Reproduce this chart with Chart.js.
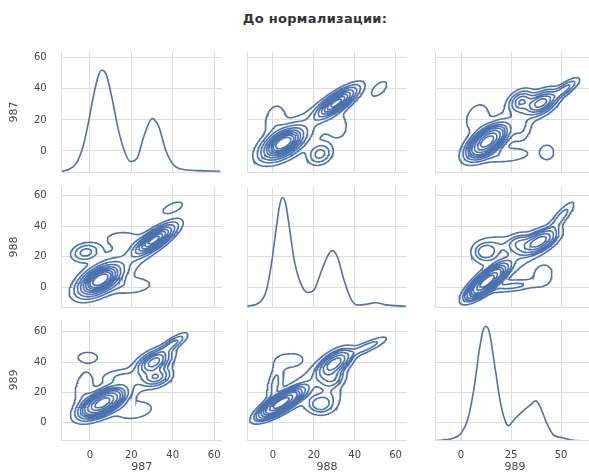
<!DOCTYPE html>
<html>
<head>
<meta charset="utf-8">
<script src="https://cdn.jsdelivr.net/npm/chart.js@4.4.1/dist/chart.umd.min.js"></script>
<style>
  html, body { margin: 0; padding: 0; background: #fff; width: 589px; height: 472px; overflow: hidden; position: relative; }
  canvas { position: absolute; }
  #title { position: absolute; left: 0; width: 630px; top: 11px; text-align: center;
           font: bold 13px "DejaVu Sans"; color: #333; letter-spacing: 0.3px; }
</style>
</head>
<body>
<div id="title">До нормализации:</div>
<script>
const varNames = ['987', '988', '989'];

// diagonal density curves (y in the row's units)
const kde987X = [-13.5, -10, -6.5, -3.3, -0.8, 1.6, 4.1, 5.7, 7.8, 10.6, 13.8, 17.1, 19.5, 22.8, 26, 30.1, 33.3, 36.6, 39.8, 43.9, 52, 63];
const kde987Y = [-13.2, -11.8, -7.9, 2.8, 17.6, 34.6, 48.4, 52, 49.7, 34.6, 13.4, -1.5, -6.8, -4.7, 9.1, 20.8, 15.5, 0.6, -7.9, -11.7, -12.7, -13.1];
const kde988X = [-12.5, -6.5, -3.3, -0.8, 1.6, 3.3, 4.6, 6.2, 8.1, 10.5, 13.8, 17, 20.3, 24.3, 27.6, 29.2, 31.7, 34.9, 38.2, 41.4, 45.4, 50.3, 55.2, 65];
const kde988Y = [-12.2, -9.7, -2.2, 15, 38.7, 53.7, 58.7, 54.8, 38.7, 17.2, 2.1, -3.2, -1.1, 12.9, 22.6, 24.1, 19.4, 4.3, -7.5, -11.4, -11.0, -9.9, -11.3, -12.2];
const kde989X = [-13, -4.1, 0, 3.3, 6.6, 9.1, 11, 12.3, 14, 16.5, 19.8, 22.6, 23.9, 26.4, 30.5, 34.6, 37.4, 39.6, 42.9, 46.2, 50.3, 55.3, 61.9, 67];
const kde989Y = [-11.9, -10.3, -6.9, 1.8, 23.5, 47.5, 60.6, 63.4, 60.6, 41, 12.7, -0.4, -1.9, 1.8, 7.2, 11.6, 14.4, 10.5, -0.4, -8, -9.8, -11.4, -12, -12.2];

// blobs behind each pair density: [mean x, mean y, sd x, sd y, corr, weight]
const blobs987v988 = [
  [5, 5, 5.5, 5.5, 0.55, 0.50],
  [31, 31, 5.5, 5.5, 0.8, 0.27],
  [-2, 23, 3.8, 3.3, 0.2, 0.045],
  [40, 52, 3.8, 3, 0.6, 0.011],
  [15, 32, 6, 3.5, 0, 0.018],
  [20, 1, 7, 3.5, 0.2, 0.03],
  [14, 16, 11, 11, 0.6, 0.1]
];
const blobs987v989 = [
  [6, 13, 5.5, 5, 0.6, 0.5],
  [31, 40, 4.5, 4.5, 0.5, 0.15],
  [32, 30, 4, 3.5, 0.3, 0.07],
  [40, 52, 4, 4, 0.8, 0.03],
  [-1, 43, 3.5, 2.5, 0, 0.012],
  [-3, 23, 3, 8, 0.3, 0.03],
  [15, 30, 6, 3, 0, 0.02],
  [22, 8, 6, 4, 0.3, 0.03],
  [15, 22, 11, 11, 0.7, 0.1]
];
const blobs988v989 = [
  [4, 13, 5.5, 5, 0.8, 0.5],
  [30, 39, 4.5, 5, 0.6, 0.2],
  [29, 29, 3.5, 3.5, 0.2, 0.04],
  [23, 12, 3.8, 3.8, 0, 0.05],
  [28, 18, 4, 6, 0, 0.03],
  [46, 50, 6, 4, 0.85, 0.03],
  [1, 26, 2.5, 8, 0.5, 0.035],
  [8, 41, 5, 3.5, 0.2, 0.025],
  [18, 25, 11, 11, 0.7, 0.1]
];

const colRange = [[-13.6, 63.8], [-12.7, 65.6], [-13, 67]];
const rowRange = [[-13.6, 63.8], [-12.7, 65.6], [-11.4, 67.7]];
const xStep = [20, 20, 25];

const colLeft = [61.7, 246.7, 435];
const rowTop = [51.7, 186.7, 320];
const plotW = 160, plotH = 120;
const lineColor = '#4c72b0';
const gridColor = '#dcdcdc';

function density(blobs, x, y) {
  let d = 0;
  for (const [mx, my, sx, sy, r, w] of blobs) {
    const u = (x - mx) / sx, v = (y - my) / sy;
    const q = (u * u - 2 * r * u * v + v * v) / (1 - r * r);
    d += w * Math.exp(-q / 2) / (sx * sy * Math.sqrt(1 - r * r));
  }
  return d;
}

// iso-proportion contour lines (10 levels, thresh 0.05) via marching squares
function contourLines(blobs) {
  const N = 170, lo = -30, hi = 92;
  const step = (hi - lo) / N;
  const v = [], all = [];
  for (let j = 0; j <= N; j++) {
    const row = [];
    for (let i = 0; i <= N; i++) {
      const d = density(blobs, lo + i * step, lo + j * step);
      row.push(d); all.push(d);
    }
    v.push(row);
  }
  const sorted = all.slice().sort((a, b) => b - a);
  const total = sorted.reduce((a, b) => a + b, 0);
  const cum = []; let c = 0;
  for (const s of sorted) { c += s; cum.push(c / total); }
  const levels = [];
  for (let k = 0; k < 9; k++) {
    const p = 0.05 + k * 0.95 / 9;
    levels.push(sorted[cum.findIndex(t => t >= 1 - p)]);
  }

  const lines = [];
  for (const lev of levels) {
    const pt = {}, adj = {};
    const ep = (key, xa, ya, va, xb, yb, vb) => {
      if (!(key in pt)) {
        const t = (lev - va) / (vb - va);
        pt[key] = [xa + t * (xb - xa), ya + t * (yb - ya)];
      }
      return key;
    };
    const link = (a, b) => { (adj[a] = adj[a] || []).push(b); (adj[b] = adj[b] || []).push(a); };
    for (let j = 0; j < N; j++) {
      for (let i = 0; i < N; i++) {
        const bl = v[j][i], br = v[j][i + 1], tr = v[j + 1][i + 1], tl = v[j + 1][i];
        const X0 = lo + i * step, X1 = X0 + step, Y0 = lo + j * step, Y1 = Y0 + step;
        const a0 = bl > lev, a1 = br > lev, a2 = tr > lev, a3 = tl > lev;
        const E = {};
        if (a0 !== a1) E.b = ep('h' + i + '_' + j, X0, Y0, bl, X1, Y0, br);
        if (a1 !== a2) E.r = ep('v' + (i + 1) + '_' + j, X1, Y0, br, X1, Y1, tr);
        if (a3 !== a2) E.t = ep('h' + i + '_' + (j + 1), X0, Y1, tl, X1, Y1, tr);
        if (a0 !== a3) E.l = ep('v' + i + '_' + j, X0, Y0, bl, X0, Y1, tl);
        const ks = Object.keys(E);
        if (ks.length === 2) link(E[ks[0]], E[ks[1]]);
        else if (ks.length === 4) {
          const cen = (bl + br + tr + tl) / 4 > lev;
          if (a0 === cen) { link(E.l, E.t); link(E.b, E.r); }
          else { link(E.l, E.b); link(E.t, E.r); }
        }
      }
    }
    const used = new Set();
    const walk = start => {
      const line = [];
      let prev = null, cur = start;
      while (cur !== undefined && !used.has(cur)) {
        used.add(cur);
        line.push(pt[cur]);
        const nxt = adj[cur].find(n => n !== prev && !used.has(n));
        prev = cur; cur = nxt;
      }
      if (line.length > 2 && adj[prev] && adj[prev].includes(start)) line.push(pt[start]);
      lines.push(line);
    };
    const keys = Object.keys(adj);
    keys.filter(k => adj[k].length === 1).forEach(k => { if (!used.has(k)) walk(k); });
    keys.forEach(k => { if (!used.has(k)) walk(k); });
  }
  return lines;
}

function toPoints(lines, swap) {
  const out = [];
  for (const line of lines) {
    for (const [a, b] of line) out.push(swap ? { x: b, y: a } : { x: a, y: b });
    out.push({ x: null, y: null });
  }
  return out;
}

const pairLines = {
  '0_1': contourLines(blobs987v988),
  '0_2': contourLines(blobs987v989),
  '1_2': contourLines(blobs988v989)
};
const diag = [[kde987X, kde987Y], [kde988X, kde988Y], [kde989X, kde989Y]];

const tickFont = { family: 'DejaVu Sans', size: 10 };
const titleFont = { family: 'DejaVu Sans', size: 11 };

for (let r = 0; r < 3; r++) {
  for (let c = 0; c < 3; c++) {
    const padL = c === 0 ? colLeft[0] : 2;
    const padB = r === 2 ? 476 - (rowTop[2] + plotH) : 2;
    const cv = document.createElement('canvas');
    cv.width = Math.round(plotW + padL);
    cv.height = Math.round(plotH + padB);
    cv.style.left = (colLeft[c] - padL) + 'px';
    cv.style.top = rowTop[r] + 'px';
    document.body.appendChild(cv);

    let data, mono = false;
    if (r === c) {
      data = diag[r][0].map((x, k) => ({ x: x, y: diag[r][1][k] }));
      mono = true;
    } else {
      const key = Math.min(r, c) + '_' + Math.max(r, c);
      // pair arrays are stored as (lower index on x, higher on y)
      data = toPoints(pairLines[key], c > r);
    }

    new Chart(cv, {
      type: 'scatter',
      data: {
        datasets: [{
          data: data,
          showLine: true,
          borderColor: lineColor,
          borderWidth: 1.6,
          pointRadius: 0,
          spanGaps: false,
          tension: mono ? 0.4 : 0,
          cubicInterpolationMode: mono ? 'monotone' : 'default'
        }]
      },
      options: {
        responsive: false,
        animation: false,
        events: [],
        layout: { padding: 0 },
        plugins: { legend: { display: false }, tooltip: { enabled: false } },
        scales: {
          x: {
            type: 'linear',
            min: colRange[c][0], max: colRange[c][1],
            grid: { color: gridColor, drawTicks: false },
            border: { color: gridColor },
            ticks: { display: r === 2, stepSize: xStep[c], includeBounds: false, font: tickFont, color: '#444', padding: 9, maxRotation: 0 },
            title: { display: r === 2, text: varNames[c], font: titleFont, color: '#444', padding: { top: 0, bottom: 2 } },
            afterFit: s => { s.height = padB; s.paddingLeft = 0; s.paddingRight = 0; }
          },
          y: {
            type: 'linear',
            min: rowRange[r][0], max: rowRange[r][1],
            grid: { color: gridColor, drawTicks: false },
            border: { color: gridColor },
            ticks: { display: c === 0, stepSize: 20, includeBounds: false, font: tickFont, color: '#444', padding: 15 },
            title: { display: c === 0, text: varNames[r], font: titleFont, color: '#444', padding: { top: 8, bottom: 0 } },
            afterFit: s => { s.width = padL; s.paddingTop = 0; s.paddingBottom = 0; }
          }
        }
      }
    });
  }
}
</script>
</body>
</html>
